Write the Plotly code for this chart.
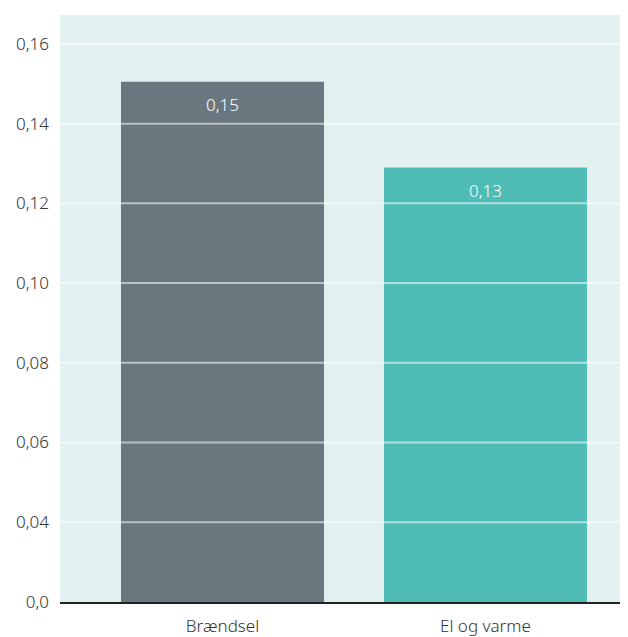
import plotly.graph_objects as go

categories = ["Brændsel", "El og varme"]
values = [0.1505, 0.129]
value_labels = ["0,15", "0,13"]
bar_colors = ["#6a777e", "#4fbdb5"]
tick_vals = [0.02, 0.04, 0.06, 0.08, 0.10, 0.12, 0.14, 0.16]
tick_text = ["0,0", "0,04", "0,06", "0,08", "0,10", "0,12", "0,14", "0,16"]

FONT = "'Noto Sans', 'Open Sans', sans-serif"

fig = go.Figure()
fig.add_trace(go.Bar(
    x=categories, y=values, marker=dict(color=bar_colors, line=dict(width=0)),
    width=0.772, hoverinfo="skip", showlegend=False,
))

for c, v, t in zip(categories, values, value_labels):
    fig.add_annotation(x=c, y=v, text=t, showarrow=False, yanchor="middle",
                       yshift=-23, font=dict(family=FONT, size=17, color="white", weight=300))

for tv in tick_vals[1:]:
    fig.add_shape(type="line", xref="paper", x0=0, x1=1, yref="y", y0=tv, y1=tv,
                  line=dict(color="rgba(255,255,255,0.55)", width=2), layer="above")

fig.update_layout(
    width=620, height=629,
    margin=dict(l=52, r=0, t=7, b=35),
    paper_bgcolor="white", plot_bgcolor="#e2f1f0",
    font=dict(family=FONT, size=17, color="#333333"),
    xaxis=dict(range=[-0.618, 1.542], showgrid=False, zeroline=False,
               showline=True, linecolor="#222222", linewidth=2,
               ticks="", ticklabelstandoff=8,
               tickfont=dict(family=FONT, size=17, color="#333333", weight=300)),
    yaxis=dict(range=[0.02, 0.16725], tickvals=tick_vals, ticktext=tick_text,
               showgrid=False, zeroline=False, showline=False, ticks="",
               ticklabelstandoff=10,
               tickfont=dict(family=FONT, size=17, color="#333333", weight=300)),
)

fig.write_html("out.html")
